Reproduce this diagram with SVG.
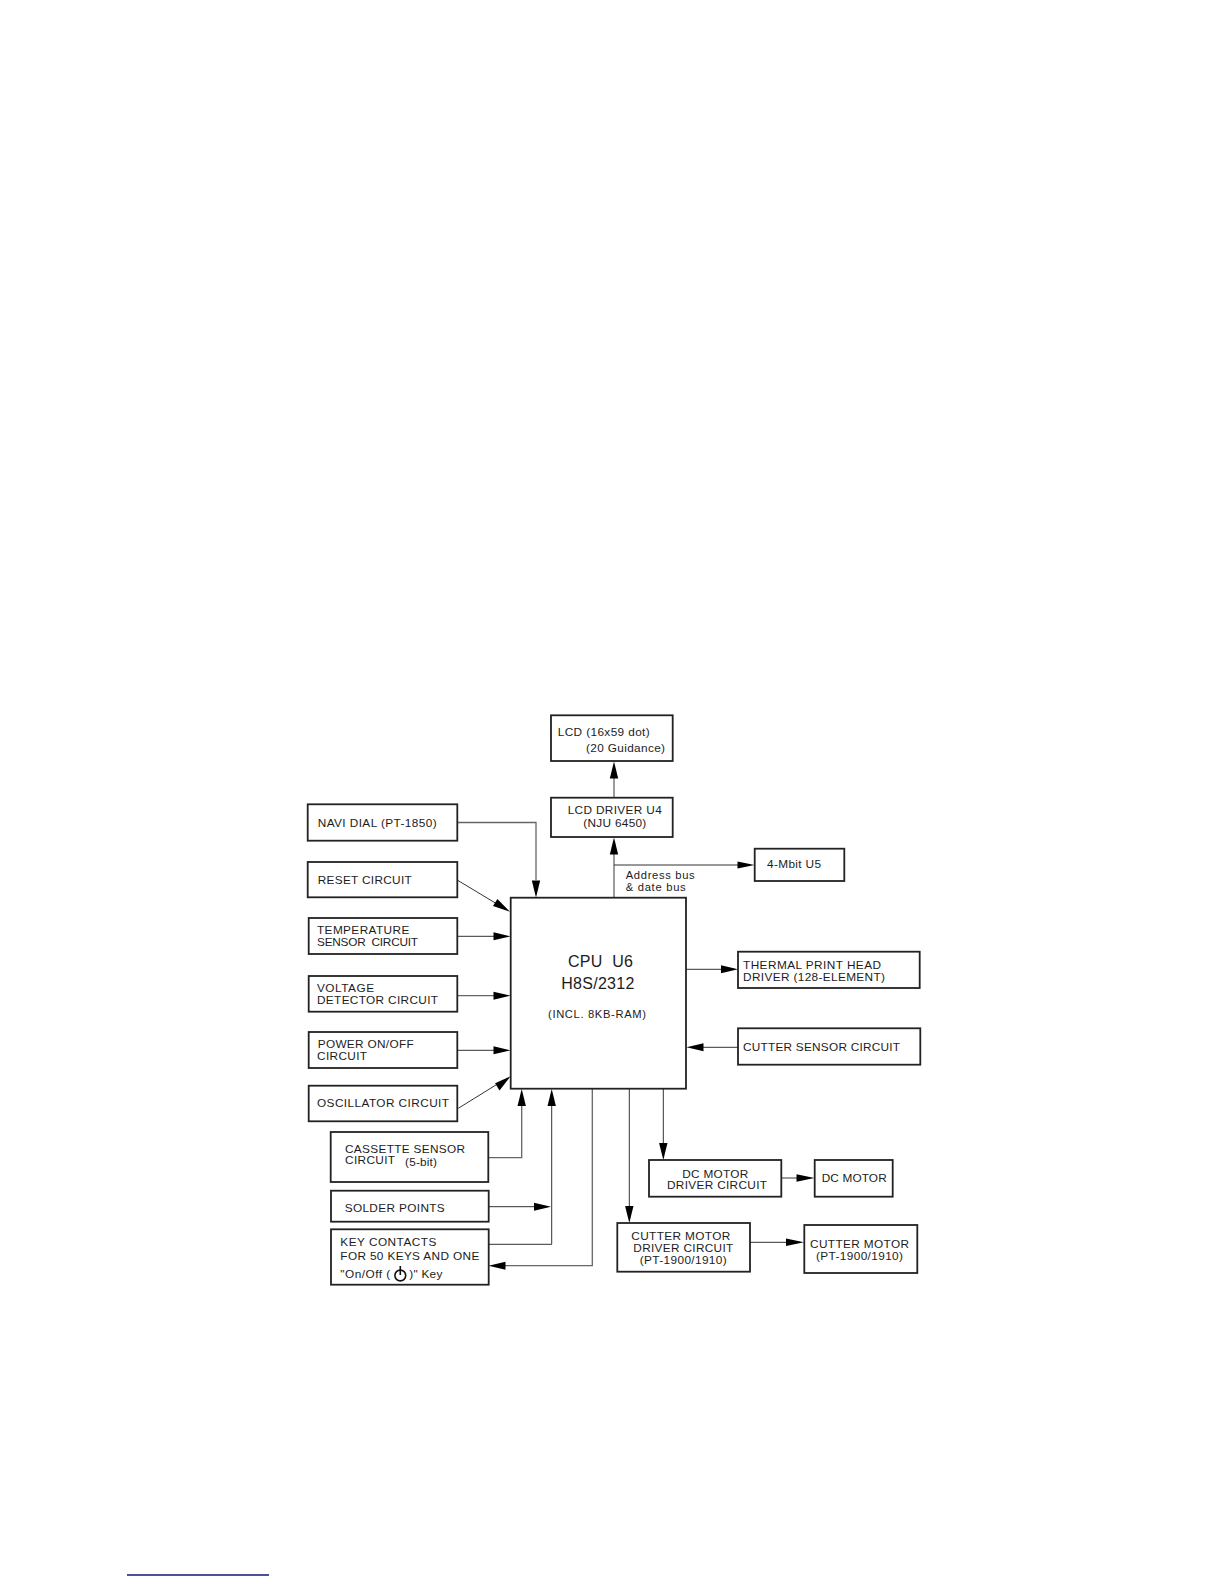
<svg xmlns="http://www.w3.org/2000/svg" width="1224" height="1584" viewBox="0 0 1224 1584">
<style>
.b{fill:#fff;stroke:#222;stroke-width:1.8}
text{font-family:"Liberation Sans",Arial,sans-serif;font-size:11.8px;fill:#1c1c1c;white-space:pre}
.c{fill:none;stroke:#333;stroke-width:1}
.g{fill:none;stroke:#666;stroke-width:1.3}
.a{fill:#000;stroke:none}
</style>
<rect width="1224" height="1584" fill="#fff"/>
<g id="connectors">
<path class="g" d="M457 822.500H536V880"/><path class="a" d="M536 897.500l-4.200-17h8.400z"/>
<path class="c" d="M458 880.500L497 904"/><path class="a" d="M510 911.700l-17-5.600 4.400-7.200z"/>
<path class="c" d="M457 936.300H495"/><path class="a" d="M510.500 936.300l-17-4v8z"/>
<path class="g" d="M457 995.700H495"/><path class="a" d="M510.500 995.700l-17-4v8z"/>
<path class="c" d="M457 1050.300H495"/><path class="a" d="M510.500 1050.300l-17-4v8z"/>
<path class="c" d="M458.300 1108.300L497 1084.300"/><path class="a" d="M510.500 1076.300l-11 14.200-4.400-7.200z"/>
<path class="g" d="M488 1157.700H521.700V1105"/><path class="a" d="M521.700 1089l-4.200 17h8.400z"/>
<path class="c" d="M488 1206.700H535"/><path class="a" d="M551 1206.700l-17-4v8z"/>
<path class="c" d="M488 1244.300H551.700V1105"/><path class="a" d="M551.700 1089l-4.200 17h8.400z"/>
<path class="g" d="M592.300 1089V1265.700H505"/><path class="a" d="M488.500 1265.700l17-4v8z"/>
<path class="g" d="M614 897.500V852"/><path class="a" d="M614 837.500l-4.200 17h8.400z"/>
<path class="g" d="M614 797.500V775"/><path class="a" d="M614 761.500l-4.200 17h8.400z"/>
<path class="c" d="M614 865H740"/><path class="a" d="M754.500 865l-17-3.600v7.200z"/>
<path class="c" d="M686 969.300H722"/><path class="a" d="M738 969.300l-17-4v8z"/>
<path class="c" d="M738 1047.300H703"/><path class="a" d="M686.500 1047.300l17-4v8z"/>
<path class="c" d="M663.300 1089V1145"/><path class="a" d="M663.300 1160l-4.200-17h8.400z"/>
<path class="c" d="M629.300 1089V1208"/><path class="a" d="M629.300 1223l-4.200-17h8.400z"/>
<path class="g" d="M781.500 1178H797"/><path class="a" d="M814.500 1178l-18-3.800v7.600z"/>
<path class="c" d="M750 1242.300H787"/><path class="a" d="M804 1242.300l-18-3.800v7.600z"/>
</g>
<g id="navi"><rect class="b" x="307.700" y="804.300" width="149.600" height="36.400"/><text x="317.700" y="826.700" textLength="119">NAVI DIAL (PT-1850)</text></g>
<g id="reset"><rect class="b" x="307.700" y="862" width="149.600" height="35.300"/><text x="317.700" y="884" textLength="94">RESET CIRCUIT</text></g>
<g id="temp"><rect class="b" x="308.700" y="918" width="148.600" height="36"/><text x="317" y="934" textLength="92.300">TEMPERATURE</text><text x="317" y="945.700" textLength="101">SENSOR  CIRCUIT</text></g>
<g id="volt"><rect class="b" x="308.700" y="976" width="148.600" height="35.700"/><text x="317" y="992" textLength="57">VOLTAGE</text><text x="317" y="1004" textLength="121">DETECTOR CIRCUIT</text></g>
<g id="power"><rect class="b" x="308.700" y="1032" width="148.600" height="36"/><text x="317.700" y="1048" textLength="96">POWER ON/OFF</text><text x="317" y="1060" textLength="50">CIRCUIT</text></g>
<g id="osc"><rect class="b" x="308.700" y="1085.700" width="148.600" height="35.600"/><text x="317" y="1107" textLength="132">OSCILLATOR CIRCUIT</text></g>
<g id="cassette"><rect class="b" x="330.700" y="1132" width="157.600" height="50"/><text x="345" y="1152.700" textLength="120">CASSETTE SENSOR</text><text x="345" y="1164.300" textLength="50">CIRCUIT</text><text x="405" y="1166" textLength="32">(5-bit)</text></g>
<g id="solder"><rect class="b" x="331" y="1190.700" width="157.700" height="31"/><text x="344.700" y="1211.700" textLength="100">SOLDER POINTS</text></g>
<g id="key"><rect class="b" x="331" y="1229.300" width="157.700" height="55.400"/><text x="340.300" y="1246" textLength="96">KEY CONTACTS</text><text x="340.300" y="1260.300" textLength="139">FOR 50 KEYS AND ONE</text><text x="340.300" y="1278.300" textLength="50">"On/Off (</text><circle cx="400.300" cy="1275.500" r="5.400" fill="none" stroke="#111" stroke-width="1.600"/><path d="M400.300 1266v9" stroke="#111" stroke-width="1.600"/><text x="409.300" y="1278.300" textLength="33">)" Key</text></g>
<g id="cpu"><rect class="b" x="510.700" y="897.700" width="175.300" height="191"/><text x="568" y="967.300" style="font-size:16px" textLength="65">CPU  U6</text><text x="561.300" y="988.700" style="font-size:16px" textLength="73">H8S/2312</text><text x="548" y="1018" style="font-size:11.200px" textLength="98">(INCL. 8KB-RAM)</text></g>
<g id="lcd"><rect class="b" x="551" y="715.300" width="121.700" height="45.700"/><text x="557.700" y="735.700" textLength="92">LCD (16x59 dot)</text><text x="586" y="751.700" textLength="79">(20 Guidance)</text></g>
<g id="lcddriver"><rect class="b" x="551" y="797.700" width="121.700" height="39.300"/><text x="567.700" y="814.300" textLength="94">LCD DRIVER U4</text><text x="583.300" y="826.700" textLength="63">(NJU 6450)</text></g>
<g id="bus"><text x="625.700" y="879" style="font-size:11.200px" textLength="69">Address bus</text><text x="625.700" y="890.700" style="font-size:11.200px" textLength="60">&amp; date bus</text></g>
<g id="mbit"><rect class="b" x="754.700" y="848.700" width="89.600" height="32.300"/><text x="767" y="868.300" textLength="54">4-Mbit U5</text></g>
<g id="thermal"><rect class="b" x="738" y="951.700" width="181.700" height="36.300"/><text x="743" y="968.700" textLength="138">THERMAL PRINT HEAD</text><text x="743" y="980.700" textLength="142">DRIVER (128-ELEMENT)</text></g>
<g id="cuttersensor"><rect class="b" x="738" y="1028.300" width="182.300" height="36.400"/><text x="743" y="1051.300" textLength="157">CUTTER SENSOR CIRCUIT</text></g>
<g id="dcdriver"><rect class="b" x="649" y="1160" width="132.300" height="36.700"/><text x="682.300" y="1177.700" textLength="66">DC MOTOR</text><text x="667" y="1189.300" textLength="100">DRIVER CIRCUIT</text></g>
<g id="dcmotor"><rect class="b" x="814.700" y="1160" width="78" height="36.700"/><text x="821.700" y="1181.700" textLength="65">DC MOTOR</text></g>
<g id="cutterdriver"><rect class="b" x="617.300" y="1223" width="132.700" height="48.700"/><text x="631.300" y="1240.300" textLength="99">CUTTER MOTOR</text><text x="633.300" y="1252" textLength="100">DRIVER CIRCUIT</text><text x="639.700" y="1264" textLength="87">(PT-1900/1910)</text></g>
<g id="cuttermotor"><rect class="b" x="804.300" y="1225" width="113" height="48"/><text x="810" y="1248" textLength="99">CUTTER MOTOR</text><text x="816" y="1260" textLength="87">(PT-1900/1910)</text></g>
<path d="M127 1575H269" stroke="#14147a" stroke-width="1.300" fill="none"/>
</svg>
